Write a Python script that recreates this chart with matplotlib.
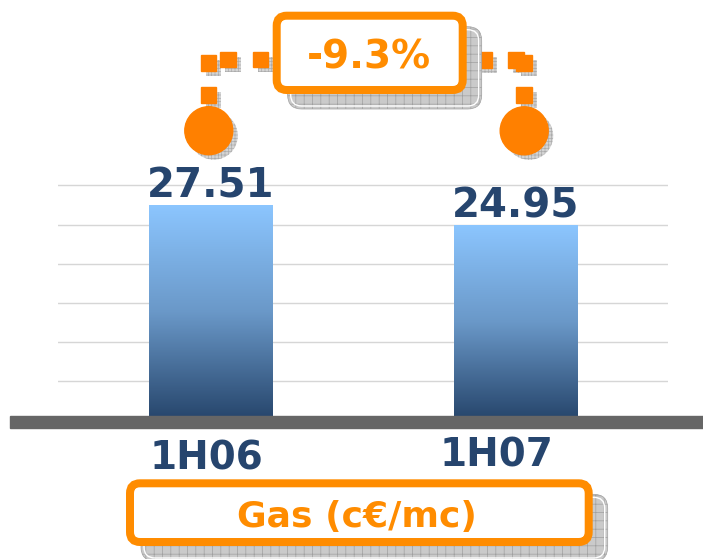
import matplotlib.pyplot as plt
import numpy as np
from matplotlib.patches import FancyBboxPatch, Rectangle, Circle
from matplotlib.colors import LinearSegmentedColormap

# data
periods = ["1H06", "1H07"]
gas_price = [27.51, 24.95]
unit_label = "Gas (c€/mc)"
grid_ticks = [5, 10, 15, 20, 25, 30]

NAVY = '#26456E'
ORANGE = '#FF8C00'
DOT_ORANGE = '#FF8000'
W, H = 703, 559

plt.rcParams['font.family'] = 'DejaVu Sans'
plt.rcParams['hatch.color'] = '#9a9a9a'
plt.rcParams['hatch.linewidth'] = 0.5

fig = plt.figure(figsize=(W / 100, H / 100), dpi=100)


def fx(px):
    return px / W


def fy(py):
    return 1 - py / H


# main chart area (y=0 at pixel row 420, 7.817 px per unit)
Y_TOP = 31
ax = fig.add_axes([fx(58), fy(420), fx(668) - fx(58), fy(420 - Y_TOP * 7.817) - fy(420)])
x = np.arange(len(periods))
bars = ax.bar(x, gas_price, width=0.4035, color='none', edgecolor='none', zorder=2)

cmap = LinearSegmentedColormap.from_list(
    'bar', [(0, '#26456B'), (0.5, '#6A98C8'), (1, '#8CC6FF')])
grad = np.linspace(0, 1, 256).reshape(-1, 1)
for b in bars:
    im = ax.imshow(grad, cmap=cmap, origin='lower', aspect='auto', zorder=2,
                   extent=[b.get_x(), b.get_x() + b.get_width(), 0, b.get_height()])
    im.set_clip_path(b)

ax.set_xlim(-0.5, 1.5)
ax.set_ylim(0, Y_TOP)
ax.set_yticks(grid_ticks)
ax.set_xticks([])
ax.yaxis.grid(True, color='#d6d6d6', lw=1.0, zorder=0)
ax.set_axisbelow(True)
ax.tick_params(left=False, labelleft=False)
ax.patch.set_visible(False)
for s in ax.spines.values():
    s.set_visible(False)

for i, v in enumerate(gas_price):
    ax.annotate(f"{v:.2f}", (x[i], v), xytext=(0, 7), textcoords='offset pixels',
                ha='center', va='baseline', fontsize=29, fontweight='bold',
                color=NAVY, annotation_clip=False)

# category labels sit a bit off centre in the original
label_dx = [-4, -19]
label_dy = [-49, -46.5]
for i, name in enumerate(periods):
    ax.annotate(name, (x[i], 0), xytext=(label_dx[i], label_dy[i]),
                textcoords='offset pixels', ha='center', va='baseline',
                fontsize=28, fontweight='bold', color=NAVY, annotation_clip=False)

# overlay in pixel units for the decorations
ov = fig.add_axes([0, 0, 1, 1])
ov.set_xlim(0, W)
ov.set_ylim(H, 0)
ov.axis('off')

# baseline
ov.add_patch(Rectangle((10, 415.7), 700, 12.6, color='#666666'))


def shadow_box(x0, y0, x1, y1, off=15, border=8):
    w, h = x1 - x0, y1 - y0
    ov.add_patch(FancyBboxPatch((x0 + off, y0 + off), w, h,
                                boxstyle='round,pad=0,rounding_size=14',
                                fc='#cacaca', ec='#a0a0a0', hatch='++', lw=0.5))
    ov.add_patch(FancyBboxPatch((x0 + off + 3, y0 + off + 3), w - 6, h - 6,
                                boxstyle='round,pad=0,rounding_size=11',
                                fc='none', ec='white', lw=1))
    ov.add_patch(FancyBboxPatch((x0 + border / 2, y0 + border / 2), w - border, h - border,
                                boxstyle='round,pad=0,rounding_size=10',
                                fc='white', ec=ORANGE, lw=border * 0.72))


def small_shadow(patch):
    patch.set_facecolor('#d4d4d4')
    patch.set_edgecolor('#acacac')
    patch.set_hatch('+++++')
    patch.set_linewidth(0)
    ov.add_patch(patch)


# dotted connectors
squares = [(200.7, 55), (220, 51.7), (252.7, 51.7), (200.7, 87.3),
           (476.7, 52.3), (508.3, 52.3), (516.3, 55), (516.3, 87.3)]
circles = [(208.8, 130.7), (524.2, 130.8)]
for sx, sy in squares:
    small_shadow(Rectangle((sx + 5, sy + 5), 15.5, 15.5))
for cx, cy in circles:
    small_shadow(Circle((cx + 5, cy + 5), 24))
for sx, sy in squares:
    ov.add_patch(Rectangle((sx, sy), 15.5, 15.5, color=DOT_ORANGE))
for cx, cy in circles:
    ov.add_patch(Circle((cx, cy), 24, color=DOT_ORANGE))

# change box
change = (gas_price[1] - gas_price[0]) / gas_price[0] * 100
shadow_box(272.7, 11.7, 466.7, 94)
ov.text(369.2, 68.3, f"{change:.1f}%", ha='center', va='baseline',
        fontsize=28, fontweight='bold', color=ORANGE)

# unit box
shadow_box(126, 479.3, 592.7, 546)
ov.text(356.7, 526.5, unit_label, ha='center', va='baseline',
        fontsize=26, fontweight='bold', color=ORANGE)

fig.savefig('out.png', dpi=100)
